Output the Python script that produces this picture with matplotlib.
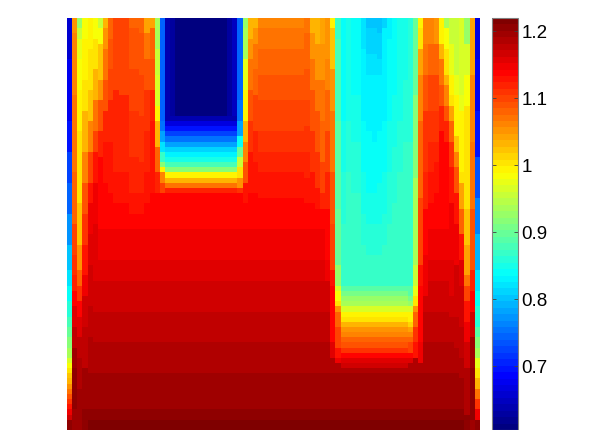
import numpy as np
import matplotlib
matplotlib.use('Agg')
import matplotlib.pyplot as plt
from matplotlib.colors import LinearSegmentedColormap

plt.rcParams['font.family'] = ['Liberation Sans', 'DejaVu Sans']

N_ROWS = 80
V_MIN = 0.604
V_MAX = 1.219
tick_values = [0.7, 0.8, 0.9, 1, 1.1, 1.2]
tick_labels = ['0.7', '0.8', '0.9', '1', '1.1', '1.2']

# each column is written top to bottom as (value, row where the value stops)
# once a column runs out of pairs it has joined the background
background = [(1.14, 41), (1.15, 47), (1.157, 51), (1.166, 57), (1.175, 63), (1.185, 69),
              (1.195, 76), (1.204, 78), (1.214, 80)]

notch1_low = [(0.64, 20), (0.67, 21), (0.70, 22), (0.72, 23), (0.75, 24), (0.78, 25), (0.81, 26),
              (0.83, 27), (0.85, 28), (0.88, 29), (0.92, 30), (0.99, 31), (1.03, 32), (1.07, 33),
              (1.12, 34)]
notch2_low = [(0.87, 52), (0.89, 53), (0.91, 54), (0.93, 55), (0.94, 56), (0.96, 57), (0.99, 58),
              (1.00, 59), (1.03, 60), (1.05, 61), (1.06, 62), (1.08, 63), (1.09, 64), (1.11, 65),
              (1.14, 66), (1.16, 67), (1.17, 68)]
mid_top = [(1.06, 2), (1.07, 6), (1.08, 11), (1.09, 16), (1.10, 22), (1.11, 26), (1.12, 30), (1.13, 35)]
left_top = [(1.08, 2), (1.09, 10), (1.10, 18), (1.11, 27), (1.12, 34), (1.13, 38)]

left_columns = [
    [(0.66, 8), (0.68, 20), (0.70, 26), (0.72, 32), (0.74, 38), (0.77, 44), (0.80, 49), (0.82, 52),
     (0.84, 55), (0.86, 58), (0.88, 60), (0.90, 62), (0.92, 64), (0.94, 66), (0.96, 67), (0.98, 68),
     (1.00, 69), (1.02, 70), (1.03, 71), (1.05, 72), (1.07, 73), (1.09, 74), (1.11, 75), (1.13, 76),
     (1.15, 77), (1.17, 78), (1.20, 80)],
    [(1.05, 3), (1.06, 15), (1.07, 30), (1.08, 40), (1.10, 46), (1.11, 50), (1.12, 53), (1.14, 56),
     (1.16, 60), (1.18, 64), (1.195, 68), (1.204, 76), (1.195, 80)],
    [(0.93, 2), (0.95, 4), (0.97, 8), (0.98, 14), (0.99, 22), (1.00, 36), (1.02, 44), (1.05, 49),
     (1.08, 52), (1.11, 55), (1.14, 58), (1.16, 62), (1.175, 66), (1.185, 72), (1.195, 80)],
    [(0.98, 4), (0.99, 12), (1.00, 18), (1.03, 26), (1.06, 32), (1.09, 38), (1.11, 44), (1.13, 50),
     (1.15, 54), (1.166, 60), (1.175, 68), (1.195, 76), (1.204, 80)],
    [(0.99, 6), (1.00, 14), (1.02, 20), (1.06, 26), (1.10, 32), (1.13, 36), (1.145, 42), (1.157, 48),
     (1.166, 56), (1.175, 62), (1.185, 68)],
    [(0.98, 4), (1.00, 10), (1.03, 16), (1.07, 22), (1.10, 26), (1.13, 32), (1.145, 40), (1.157, 50)],
    [(0.95, 2), (0.98, 5), (1.02, 12), (1.05, 16), (1.09, 22), (1.12, 27), (1.14, 36)],
    [(1.03, 2), (1.05, 6), (1.07, 12), (1.09, 18), (1.12, 24), (1.13, 32)],
    [(1.08, 4), (1.09, 10), (1.10, 16), (1.12, 24), (1.13, 34)],
    [(1.10, 14), (1.12, 30), (1.13, 36)],
    [(1.10, 15), (1.12, 30), (1.13, 36)],
    [(1.10, 15), (1.12, 30), (1.13, 36)],
    left_top,
    left_top,
    [(1.08, 3), (1.09, 11), (1.10, 19), (1.11, 28), (1.12, 34), (1.13, 38)],
    [(1.04, 3), (1.07, 8), (1.09, 14), (1.11, 22), (1.12, 30), (1.13, 36)],
    [(1.04, 2), (1.08, 8), (1.09, 14), (1.12, 20), (1.13, 34)],
]

notch1_columns = [
    [(0.94, 6), (0.95, 11), (0.96, 17), (0.99, 20), (1.03, 25), (1.08, 30), (1.12, 34)],
    [(0.74, 20), (0.75, 22), (0.78, 24), (0.82, 26), (0.87, 28), (0.92, 29), (0.99, 30), (1.06, 32),
     (1.10, 34)],
    [(0.64, 19)] + notch1_low,
    [(0.63, 19)] + notch1_low,
] + [[(0.61, 19)] + notch1_low] * 10 + [
    [(0.63, 19)] + notch1_low,
    [(0.65, 19)] + notch1_low,
    [(0.74, 16), (0.75, 20), (0.78, 23), (0.84, 25), (0.90, 27), (0.95, 29), (1.00, 31), (1.05, 33),
     (1.11, 34)],
    [(0.93, 2), (0.94, 8), (0.97, 14), (0.99, 20), (1.03, 24), (1.06, 28), (1.09, 32), (1.13, 36)],
]

middle_columns = [
    [(1.03, 4), (1.05, 8), (1.07, 14), (1.09, 20), (1.11, 26), (1.13, 34)],
    [(1.03, 2), (1.05, 5), (1.07, 10), (1.08, 15), (1.10, 22), (1.12, 28), (1.13, 34)],
] + [mid_top] * 9 + [
    [(1.07, 3), (1.08, 10), (1.09, 16), (1.10, 21), (1.11, 26), (1.12, 31), (1.13, 36)],
    [(1.03, 3), (1.05, 8), (1.07, 14), (1.09, 22), (1.11, 30), (1.13, 36)],
    [(1.03, 5), (1.05, 12), (1.07, 18), (1.09, 26), (1.11, 33), (1.13, 37)],
    [(1.04, 5), (1.05, 12), (1.07, 20), (1.08, 28), (1.10, 34), (1.12, 37)],
    [(1.05, 8), (1.06, 14), (1.08, 22), (1.10, 30), (1.12, 37), (1.14, 47), (1.15, 51)],
]

notch2_columns = [
    [(0.99, 2), (1.02, 10), (1.05, 18), (1.07, 30), (1.09, 40), (1.10, 49), (1.13, 52), (1.14, 63),
     (1.16, 66)],
    [(0.87, 4), (0.88, 20), (0.89, 37), (0.90, 48), (0.93, 52), (0.96, 53), (0.98, 55), (1.00, 56),
     (1.05, 57), (1.08, 60), (1.10, 64), (1.13, 66), (1.15, 67)],
    [(0.84, 20), (0.85, 30), (0.86, 40)] + notch2_low,
    [(0.85, 20), (0.86, 30)] + notch2_low,
    [(0.84, 15), (0.85, 24), (0.86, 34)] + notch2_low,
    [(0.84, 15), (0.85, 24), (0.86, 34)] + notch2_low,
    [(0.82, 6), (0.83, 20), (0.84, 30), (0.85, 38), (0.86, 44)] + notch2_low,
    [(0.80, 2), (0.81, 7), (0.82, 11), (0.83, 22), (0.84, 34), (0.85, 40), (0.86, 46)] + notch2_low,
    [(0.80, 2), (0.81, 7), (0.82, 11), (0.83, 24), (0.84, 34), (0.85, 40), (0.86, 46)] + notch2_low,
    [(0.80, 3), (0.81, 8), (0.82, 11), (0.83, 22), (0.84, 32), (0.85, 40), (0.86, 46)] + notch2_low,
    [(0.81, 2), (0.83, 20), (0.84, 30), (0.85, 38), (0.86, 44)] + notch2_low,
    [(0.83, 4), (0.84, 20), (0.85, 30), (0.86, 40)] + notch2_low,
    [(0.84, 15), (0.85, 25), (0.86, 36)] + notch2_low,
    [(0.85, 20), (0.86, 30)] + notch2_low,
    [(0.85, 12), (0.86, 24)] + notch2_low,
    [(0.86, 24), (0.87, 52), (0.89, 54), (0.91, 55), (0.93, 56), (0.96, 57), (0.99, 59), (1.01, 60),
     (1.04, 61), (1.06, 62), (1.08, 63), (1.10, 65), (1.14, 66), (1.16, 67)],
    [(0.90, 15), (0.92, 31), (0.94, 48), (0.95, 52), (0.97, 54), (1.00, 56), (1.05, 57), (1.08, 60),
     (1.11, 63), (1.13, 66)],
]

right_columns = [
    [(0.99, 2), (1.00, 6), (1.04, 11), (1.06, 20), (1.08, 35), (1.10, 48), (1.13, 52), (1.14, 63),
     (1.15, 67)],
    [(1.06, 5), (1.07, 11), (1.09, 18), (1.11, 30), (1.12, 37), (1.14, 46), (1.15, 54)],
    [(1.06, 5), (1.08, 11), (1.10, 18), (1.11, 24), (1.12, 30), (1.13, 36)],
    [(1.05, 5), (1.08, 11), (1.10, 18), (1.11, 24), (1.12, 28), (1.13, 34)],
    [(0.99, 5), (1.03, 8), (1.07, 13), (1.09, 17), (1.12, 22), (1.14, 40)],
    [(0.94, 2), (0.98, 6), (1.00, 11), (1.03, 13), (1.06, 17), (1.09, 20), (1.12, 24), (1.14, 40)],
    [(0.95, 5), (0.97, 11), (0.99, 15), (1.00, 17), (1.04, 20), (1.08, 24), (1.11, 29), (1.13, 36),
     (1.145, 47), (1.157, 54), (1.166, 58)],
    [(0.95, 11), (0.97, 15), (0.99, 23), (1.02, 26), (1.06, 29), (1.09, 34), (1.13, 40), (1.145, 48),
     (1.166, 58), (1.175, 64)],
    [(0.96, 15), (0.97, 18), (0.99, 30), (1.00, 32), (1.04, 37), (1.08, 42), (1.13, 47), (1.157, 52),
     (1.166, 60), (1.175, 66), (1.185, 70)],
    [(0.93, 5), (0.96, 11), (0.98, 17), (1.00, 37), (1.02, 44), (1.04, 50), (1.07, 52), (1.10, 55),
     (1.13, 59), (1.15, 63), (1.166, 68), (1.185, 77), (1.204, 80)],
    [(1.04, 11), (1.06, 24), (1.07, 37), (1.09, 49), (1.12, 53), (1.14, 57), (1.166, 62), (1.195, 68),
     (1.204, 78), (1.195, 80)],
    [(0.67, 8), (0.68, 18), (0.70, 27), (0.73, 35), (0.76, 42), (0.79, 49), (0.82, 53), (0.84, 56),
     (0.86, 60), (0.89, 62), (0.92, 64), (0.94, 66), (0.97, 68), (1.00, 70), (1.03, 72), (1.07, 74),
     (1.11, 76), (1.15, 78), (1.20, 80)],
]


def expand(runs):
    values = []
    for value, stop in runs:
        values += [value] * (stop - len(values))
    return values


background_rows = expand(background)
columns = left_columns + notch1_columns + middle_columns + notch2_columns + right_columns
grid = np.full((N_ROWS, len(columns)), np.nan)
for i, runs in enumerate(columns):
    col = expand(runs)
    grid[:, i] = col + background_rows[len(col):]

# matlab style jet, 64 levels
jet64 = LinearSegmentedColormap('jet64', {
    'red': [(0, 0, 0), (0.375, 0, 0), (0.625, 1, 1), (0.875, 1, 1), (1, 0.5, 0.5)],
    'green': [(0, 0, 0), (0.125, 0, 0), (0.375, 1, 1), (0.625, 1, 1), (0.875, 0, 0), (1, 0, 0)],
    'blue': [(0, 0.5, 0.5), (0.125, 1, 1), (0.375, 1, 1), (0.625, 0, 0), (1, 0, 0)],
}, N=64)

W, H = 598, 431
fig = plt.figure(figsize=(W / 100, H / 100), dpi=100)
ax = fig.add_axes([67 / W, 0, 413 / W, 412 / H])
im = ax.imshow(grid, cmap=jet64, vmin=V_MIN, vmax=V_MAX, aspect='auto', interpolation='nearest')
ax.axis('off')

cax = fig.add_axes([492.5 / W, 0, 25 / W, 412 / H])
cb = fig.colorbar(im, cax=cax, ticks=tick_values)
cb.ax.set_yticklabels(tick_labels)
cb.ax.tick_params(left=True, right=True, direction='in', length=3, width=0.6,
                  color='#404040', labelsize=13.5, pad=3, labelcolor='black')
cb.outline.set_edgecolor('#808080')
cb.outline.set_linewidth(0.8)

fig.savefig('out.png', dpi=100)
